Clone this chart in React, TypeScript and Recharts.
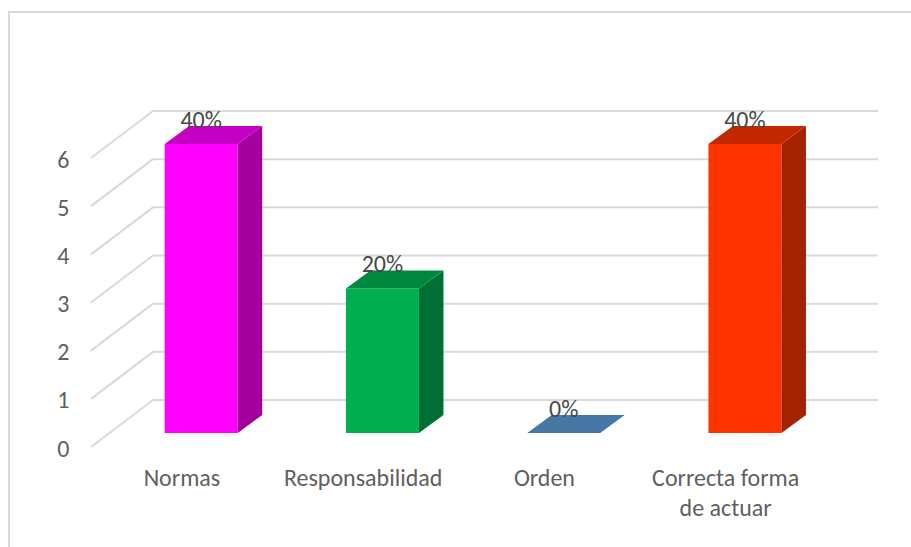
import React from "react";
import { BarChart, Bar, XAxis, YAxis, CartesianGrid, LabelList } from "recharts";

const categories = ["Normas", "Responsabilidad", "Orden", "Correcta forma de actuar"];
const values = [6, 3, 0, 6];
const percents = ["40%", "20%", "0%", "40%"];
const frontColors = ["#ff00ff", "#00b050", "#4677a5", "#ff3300"];
const topColors = ["#c400c4", "#00883e", "#4677a5", "#c42800"];
const sideColors = ["#a3009f", "#006f33", "#35597c", "#a32200"];
const yTicks = [0, 1, 2, 3, 4, 5, 6];

const rows = categories.map((name, i) => ({ name, value: values[i], percent: percents[i] }));

const FONT = "Carlito, Calibri, Lato, sans-serif";
const SHIFT_X = -42.3;
const SHIFT_Y = 33;
const DEPTH_X = 24.5;
const DEPTH_Y = 18;

function Bar3D(props: any) {
  const { x, y, width, height, index } = props;
  const l = x + SHIFT_X;
  const r = l + width;
  const t = y + SHIFT_Y;
  const b = t + height;
  const top = `${l},${t} ${r},${t} ${r + DEPTH_X},${t - DEPTH_Y} ${l + DEPTH_X},${t - DEPTH_Y}`;
  const side = `${r},${t} ${r + DEPTH_X},${t - DEPTH_Y} ${r + DEPTH_X},${b - DEPTH_Y} ${r},${b}`;
  return (
    <g>
      {height > 0 && <rect x={l} y={t} width={width} height={height} fill={frontColors[index]} />}
      {height > 0 && <polygon points={side} fill={sideColors[index]} />}
      <polygon points={top} fill={topColors[index]} />
    </g>
  );
}

function YTick(props: any) {
  const { x, y, payload } = props;
  return (
    <g>
      <line x1={x} y1={y} x2={x - 62} y2={y + 47} stroke="#d9d9d9" strokeWidth={2} />
      <text x={x - 83.5} y={y + 48} textAnchor="end" dominantBaseline="central" fontFamily={FONT} fontSize={24} fill="#5f5f5f">
        {payload.value}
      </text>
    </g>
  );
}

function wrap(label: string) {
  const lines: string[] = [];
  let cur = "";
  label.split(" ").forEach((w) => {
    const next = cur ? `${cur} ${w}` : w;
    if (next.length > 16) {
      lines.push(cur);
      cur = w;
    } else cur = next;
  });
  lines.push(cur);
  return lines;
}

function XTick(props: any) {
  const { x, y, payload } = props;
  return (
    <text textAnchor="middle" fontFamily={FONT} fontSize={24} fill="#5f5f5f">
      {wrap(payload.value).map((line, i) => (
        <tspan key={i} x={x - 61.7} y={y + 86 + i * 30}>
          {line}
        </tspan>
      ))}
    </text>
  );
}

function PercentLabel(props: any) {
  const { x, y, width, value } = props;
  return (
    <text
      x={x + width / 2 + SHIFT_X}
      y={y + SHIFT_Y - 25}
      textAnchor="middle"
      dominantBaseline="central"
      fontFamily={FONT}
      fontSize={24}
      fill="#484848"
    >
      {value}
    </text>
  );
}

export default function App() {
  return (
    <div style={{ position: "absolute", left: 0, top: 0, width: 911, height: 547, overflow: "hidden", background: "#fff" }}>
      <div style={{ position: "absolute", left: 8, top: 11, width: 903, height: 536, borderTop: "2px solid #d9d9d9", borderLeft: "2px solid #d9d9d9", boxSizing: "border-box" }} />
      <BarChart
        width={911}
        height={547}
        data={rows}
        margin={{ top: 111, right: 33, bottom: 87, left: 93 }}
        style={{ position: "absolute", left: 0, top: 0 }}
      >
        <CartesianGrid horizontal vertical={false} stroke="#d9d9d9" strokeWidth={2} />
        <XAxis dataKey="name" height={60} interval={0} axisLine={false} tickLine={false} tickSize={0} tickMargin={0} tick={<XTick />} />
        <YAxis width={60} domain={[0, 6]} ticks={yTicks} axisLine={false} tickLine={false} tickSize={0} tickMargin={0} tick={<YTick />} />
        <Bar dataKey="value" barSize={73} shape={<Bar3D />} isAnimationActive={false}>
          <LabelList dataKey="percent" content={<PercentLabel />} />
        </Bar>
      </BarChart>
    </div>
  );
}
